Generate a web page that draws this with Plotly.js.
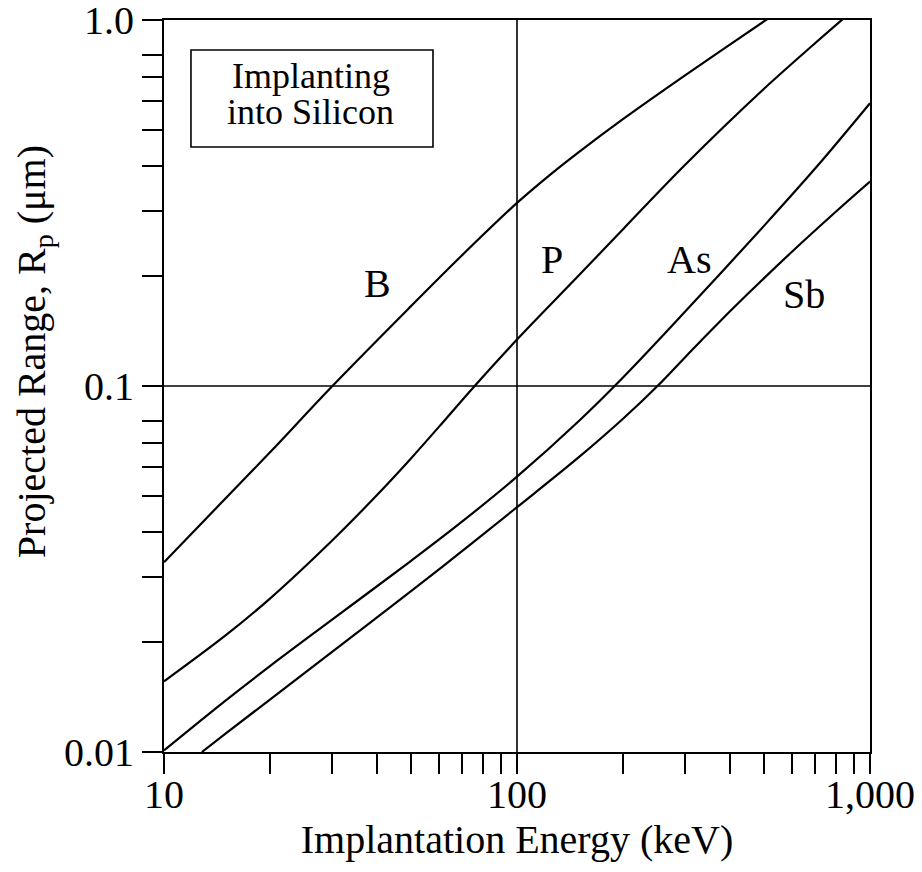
<!DOCTYPE html>
<html>
<head>
<meta charset="utf-8">
<script src="https://cdn.plot.ly/plotly-3.0.1.min.js"></script>
<style>
html,body{margin:0;padding:0;background:#fff;}
#chart{width:922px;height:872px;}
</style>
</head>
<body>
<div id="chart"></div>
<script>
// Implantation energy (keV) and projected range Rp (um) for each dopant
const energyB  = [10, 15, 20, 30, 50, 70, 100, 125, 150, 200, 300, 400, 520];
const rangeB   = [0.033, 0.0495, 0.066, 0.100, 0.165, 0.228, 0.3164, 0.380, 0.4364, 0.5368, 0.7072, 0.8549, 1.0165];

const energyP  = [10, 15, 20, 30, 40, 50, 60, 75, 100, 150, 200, 300, 500, 700, 850];
const rangeP   = [0.0156, 0.02089, 0.0263, 0.0379, 0.0502, 0.0633, 0.0772, 0.0988, 0.1339, 0.2009, 0.2686, 0.4029, 0.6478, 0.8652, 1.018];

const energyAs = [10, 15, 20, 30, 50, 70, 100, 150, 200, 300, 500, 700, 1000];
const rangeAs  = [0.0101, 0.01386, 0.01719, 0.02303, 0.03324, 0.04266, 0.05654, 0.0804, 0.1057, 0.16, 0.2734, 0.3933, 0.5925];

const energySb = [12.8, 15, 20, 30, 50, 70, 100, 150, 200, 250, 300, 350, 450, 600, 800, 1000];
const rangeSb  = [0.01, 0.01126, 0.01393, 0.01881, 0.02745, 0.03544, 0.04664, 0.064, 0.0815, 0.1, 0.1201, 0.1401, 0.1783, 0.2323, 0.2992, 0.3618];

const seriesNames = ['B', 'P', 'As', 'Sb'];

const xTickVals = [10,20,30,40,50,60,70,80,90,100,200,300,400,500,600,700,800,900,1000];
const xTickText = ['10','','','','','','','','','100','','','','','','','','','1,000'];
const yTickVals = [0.01,0.02,0.03,0.04,0.05,0.06,0.07,0.08,0.1,0.2,0.3,0.4,0.5,0.6,0.7,0.8,1.0];
const yTickText = ['0.01','','','','','','','','0.1','','','','','','','','1.0'];

const boxText = ['Implanting', 'into Silicon'];
const xTitle = 'Implantation Energy (keV)';
const yTitle = 'Projected Range, R<sub>p</sub> (μm)';

const FONT = 'Liberation Serif, serif';

const xs = [energyB, energyP, energyAs, energySb];
const ys = [rangeB, rangeP, rangeAs, rangeSb];

const traces = seriesNames.map((name, i) => ({
  type: 'scatter',
  mode: 'lines',
  name: name,
  x: xs[i],
  y: ys[i],
  line: {color: '#000', width: 2.2, shape: 'spline', smoothing: 1},
  hoverinfo: 'x+y+name'
}));

// label positions (paper coordinates)
const labelPos = [
  {x: 0.3017, y: 0.6398},
  {x: 0.5491, y: 0.6725},
  {x: 0.7436, y: 0.6725},
  {x: 0.9062, y: 0.6247}
];

const annotations = seriesNames.map((name, i) => ({
  text: name,
  xref: 'paper', yref: 'paper',
  x: labelPos[i].x, y: labelPos[i].y,
  xanchor: 'center', yanchor: 'middle',
  showarrow: false,
  font: {family: FONT, size: 40, color: '#000'}
}));

annotations.push({
  text: boxText[0], xref: 'paper', yref: 'paper',
  x: 0.2079, y: 0.9236, xanchor: 'center', yanchor: 'middle',
  showarrow: false, font: {family: FONT, size: 36, color: '#000'}
});
annotations.push({
  text: boxText[1], xref: 'paper', yref: 'paper',
  x: 0.2079, y: 0.8743, xanchor: 'center', yanchor: 'middle',
  showarrow: false, font: {family: FONT, size: 36, color: '#000'}
});
// y-axis title, placed as in the reference (slightly above the axis centre)
annotations.push({
  text: yTitle, xref: 'paper', yref: 'paper',
  x: -0.184, y: 0.5464, xanchor: 'center', yanchor: 'middle',
  textangle: -90, showarrow: false,
  font: {family: FONT, size: 40, color: '#000'}
});

const shapes = [
  // reference lines at 100 keV and 0.1 um
  {type: 'line', xref: 'x', yref: 'paper', x0: 100, x1: 100, y0: 0, y1: 1,
   line: {color: '#000', width: 1.6}, layer: 'below'},
  {type: 'line', xref: 'paper', yref: 'y', x0: 0, x1: 1, y0: 0.1, y1: 0.1,
   line: {color: '#000', width: 1.6}, layer: 'below'},
  // text box frame
  {type: 'rect', xref: 'paper', yref: 'paper', x0: 0.0382, x1: 0.381, y0: 0.8265, y1: 0.959,
   line: {color: '#000', width: 1.6}, fillcolor: 'rgba(0,0,0,0)'}
];

const axisCommon = {
  type: 'log',
  ticks: 'outside',
  ticklen: 20,
  tickwidth: 2,
  tickcolor: '#000',
  showline: true,
  linecolor: '#000',
  linewidth: 2,
  mirror: true,
  showgrid: false,
  zeroline: false,
  ticklabeloverflow: 'allow',
  tickfont: {family: FONT, size: 40, color: '#000'}
};

const layout = {
  width: 922,
  height: 872,
  margin: {l: 164, r: 52, t: 20, b: 120, pad: 0},
  paper_bgcolor: '#fff',
  plot_bgcolor: '#fff',
  font: {family: FONT, size: 40, color: '#000'},
  showlegend: false,
  xaxis: Object.assign({}, axisCommon, {
    range: [1, 3],
    tickmode: 'array',
    tickvals: xTickVals,
    ticktext: xTickText,
    ticklabelstandoff: -14,
    title: {text: xTitle, font: {family: FONT, size: 40, color: '#000'}, standoff: 6}
  }),
  yaxis: Object.assign({}, axisCommon, {
    range: [-2, 0],
    tickmode: 'array',
    tickvals: yTickVals,
    ticktext: yTickText
  }),
  shapes: shapes,
  annotations: annotations
};

Plotly.newPlot('chart', traces, layout, {displayModeBar: false, responsive: false});
</script>
</body>
</html>
